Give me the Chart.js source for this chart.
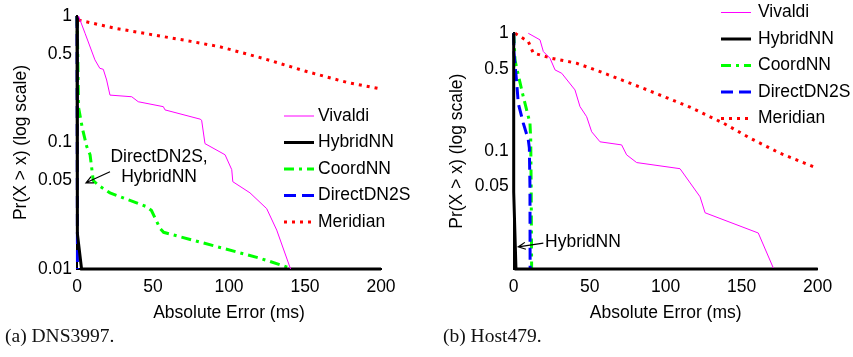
<!DOCTYPE html>
<html>
<head>
<meta charset="utf-8">
<script src="https://cdn.jsdelivr.net/npm/chart.js@4"></script>
<style>
  body { margin: 0; background: #fff; width: 853px; height: 357px; position: relative; overflow: hidden; }
  .panel { position: absolute; top: 0; }
  .cap { position: absolute; top: 325px; font-family: "Liberation Serif", serif; font-size: 19.5px; color: #111; white-space: nowrap; }
</style>
</head>
<body>
<div class="panel" style="left:0"><canvas id="chartA" width="430" height="330"></canvas></div>
<div class="panel" style="left:430px"><canvas id="chartB" width="423" height="330"></canvas></div>
<div class="cap" style="left:5px">(a) DNS3997.</div>
<div class="cap" style="left:443px">(b) Host479.</div>
<script>
const seriesNames = ["Vivaldi", "HybridNN", "CoordNN", "DirectDN2S", "Meridian"];
const xTicks = [0, 50, 100, 150, 200];
const yTicksA = [0.01, 0.05, 0.1, 0.5, 1];
const yTicksB = [0.05, 0.1, 0.5, 1];

// (a) DNS3997  -- [error ms, Pr(X > x)]
const vivaldiA = [[1,1],[5.3,0.73],[11.8,0.45],[15,0.386],[17.3,0.379],[19.5,0.312],[21.7,0.237],[36,0.23],[40.3,0.21],[56.8,0.192],[57.9,0.181],[81,0.153],[82,0.15],[84.2,0.098],[97.4,0.08],[101.8,0.061],[102.5,0.049],[113.8,0.04],[124.8,0.03],[131.4,0.0203],[140.5,0.01]];
const hybridA = [[0,1],[0,0.03],[0.5,0.019],[3,0.01],[200,0.01]];
const coordA = [[0,1],[0.5,0.5],[1,0.19],[3.5,0.13],[6.4,0.093],[8.6,0.08],[10.7,0.05],[14,0.046],[21.7,0.04],[46,0.031],[49,0.029],[54.6,0.021],[57,0.0195],[120,0.0122],[140,0.0102]];
const directA = [[0,1],[0.3,0.01]];
const meridianA = [[1,0.93],[25,0.8],[50,0.71],[75,0.63],[94,0.571],[122.6,0.462],[150,0.367],[177.4,0.299],[200,0.265]];

// (b) Host479
const vivaldiB = [[9.6,1],[17.3,0.88],[19.5,0.7],[23.9,0.614],[27.2,0.489],[31.6,0.458],[40.3,0.331],[43.6,0.239],[48,0.196],[51.3,0.146],[56.8,0.12],[71,0.113],[74.3,0.093],[80.9,0.08],[109.4,0.071],[122.6,0.041],[125.9,0.03],[160.9,0.0202],[170.8,0.0102]];
const hybridB = [[0,1],[0,0.045],[1.5,0.01],[200,0.01]];
const coordB = [[0,1],[0.9,0.59],[2,0.505],[6.3,0.29],[10.7,0.173],[11.2,0.125],[11.5,0.05],[11.8,0.01]];
const directB = [[0,1],[0.2,0.68],[2,0.377],[3,0.255],[6.3,0.173],[9.6,0.125],[10.3,0.106],[10.7,0.05],[10.8,0.01]];
const meridianB = [[0.9,1],[9.6,0.85],[12.9,0.68],[25,0.614],[41.4,0.557],[56.8,0.473],[85.1,0.342],[116,0.236],[137.9,0.173],[155.5,0.129],[175.2,0.096],[199.3,0.072]];

// callouts, in data coordinates
const notesA = [{ text: "DirectDN2S,", x: 54, y: 0.0768, align: "center" }, { text: "HybridNN", x: 54, y: 0.0534, align: "center" }];
const arrowA = { from: [21.7, 0.0588], to: [5.9, 0.048] };
const notesB = [{ text: "HybridNN", x: 20.6, y: 0.0168, align: "left" }];
const arrowB = { from: [19.5, 0.0166], to: [3.0, 0.0154] };

const FONT = "Liberation Sans";
const styles = {
  Vivaldi:    { borderColor: "#ff00ff", borderWidth: 1, borderDash: [] },
  HybridNN:   { borderColor: "#000000", borderWidth: 3, borderDash: [] },
  CoordNN:    { borderColor: "#00ff00", borderWidth: 3, borderDash: [10, 5, 3, 5] },
  DirectDN2S: { borderColor: "#0000ff", borderWidth: 3, borderDash: [12, 6] },
  Meridian:   { borderColor: "#ff0000", borderWidth: 3, borderDash: [3, 5] },
};
const drawOrder = [0, 1, 3, 2, 4];

// little legend with line samples, drawn on top
const seriesKey = {
  id: "seriesKey",
  afterDraw(chart, args, o) {
    const ctx = chart.ctx;
    ctx.save();
    chart.data.datasets.forEach((ds, i) => {
      const y = o.y + i * o.dy;
      ctx.strokeStyle = ds.borderColor;
      ctx.lineWidth = ds.borderWidth;
      ctx.setLineDash(ds.borderDash);
      ctx.beginPath();
      ctx.moveTo(o.x, y);
      ctx.lineTo(o.x + 30, y);
      ctx.stroke();
      ctx.setLineDash([]);
      ctx.fillStyle = "#000";
      ctx.font = "17.5px " + FONT;
      ctx.textBaseline = "middle";
      ctx.textAlign = "left";
      ctx.fillText(ds.label, o.textX, y);
    });
    ctx.restore();
  }
};

const arrowNote = {
  id: "arrowNote",
  afterDatasetsDraw(chart, args, o) {
    const { ctx, scales: { x, y } } = chart;
    ctx.save();
    ctx.fillStyle = "#000";
    ctx.font = "17.5px " + FONT;
    ctx.textBaseline = "middle";
    o.notes.forEach(n => {
      ctx.textAlign = n.align;
      ctx.fillText(n.text, x.getPixelForValue(n.x), y.getPixelForValue(n.y));
    });
    const x1 = x.getPixelForValue(o.arrow.from[0]), y1 = y.getPixelForValue(o.arrow.from[1]);
    const x2 = x.getPixelForValue(o.arrow.to[0]), y2 = y.getPixelForValue(o.arrow.to[1]);
    const a = Math.atan2(y2 - y1, x2 - x1);
    ctx.strokeStyle = "#000";
    ctx.lineWidth = 1.2;
    ctx.beginPath();
    ctx.moveTo(x1, y1);
    ctx.lineTo(x2, y2);
    ctx.moveTo(x2 - 8 * Math.cos(a - 0.45), y2 - 8 * Math.sin(a - 0.45));
    ctx.lineTo(x2, y2);
    ctx.lineTo(x2 - 8 * Math.cos(a + 0.45), y2 - 8 * Math.sin(a + 0.45));
    ctx.stroke();
    ctx.restore();
  }
};

function makeChart(id, sets, yTicks, o) {
  const tickFont = { family: FONT, size: 17.5 };
  return new Chart(document.getElementById(id), {
    type: "line",
    data: {
      datasets: sets.map((pts, i) => ({
        label: seriesNames[i],
        data: pts.map(p => ({ x: p[0], y: p[1] })),
        ...styles[seriesNames[i]],
        pointRadius: 0,
        fill: false,
        tension: 0,
        clip: 4,
        order: drawOrder[i],
      })),
    },
    options: {
      responsive: false,
      animation: false,
      events: [],
      layout: { padding: { left: o.padLeft, right: o.padRight, top: o.padTop, bottom: 0 } },
      plugins: {
        legend: { display: false },
        tooltip: { enabled: false },
        seriesKey: o.key,
        arrowNote: { notes: o.notes, arrow: o.arrow },
      },
      scales: {
        x: {
          type: "linear", min: 0, max: 200,
          afterBuildTicks: s => { s.ticks = xTicks.map(v => ({ value: v })); },
          afterFit: s => { s.height = 61; },
          grid: { display: false, drawTicks: false },
          border: { color: "#000", width: 2 },
          ticks: { padding: 8, color: "#000", font: tickFont, maxRotation: 0, autoSkip: false },
          title: { display: true, text: "Absolute Error (ms)", color: "#000", font: tickFont, padding: { top: 4, bottom: 6 } },
        },
        y: {
          type: "logarithmic", min: 0.01, max: 1,
          afterBuildTicks: s => { s.ticks = yTicks.map(v => ({ value: v })); },
          afterFit: s => { s.width = o.yWidth; },
          grid: { display: false, drawTicks: false },
          border: { color: "#000", width: 2 },
          ticks: { padding: 5, color: "#000", font: tickFont, autoSkip: false, callback: v => String(v) },
          title: { display: true, text: "Pr(X > x) (log scale)", color: "#000", font: tickFont, padding: { top: 4, bottom: 4 } },
        },
      },
    },
    plugins: [seriesKey, arrowNote],
  });
}

makeChart("chartA", [vivaldiA, hybridA, coordA, directA, meridianA], yTicksA, {
  padLeft: 6.5, padRight: 49, padTop: 16, yWidth: 70.5,
  key: { x: 284, textX: 318, y: 116, dy: 26.5 },
  notes: notesA, arrow: arrowA,
});
makeChart("chartB", [vivaldiB, hybridB, coordB, directB, meridianB], yTicksB, {
  padLeft: 12.2, padRight: 35.3, padTop: 33.3, yWidth: 71.5,
  key: { x: 291, textX: 328, y: 12.5, dy: 26.5 },
  notes: notesB, arrow: arrowB,
});
</script>
</body>
</html>
